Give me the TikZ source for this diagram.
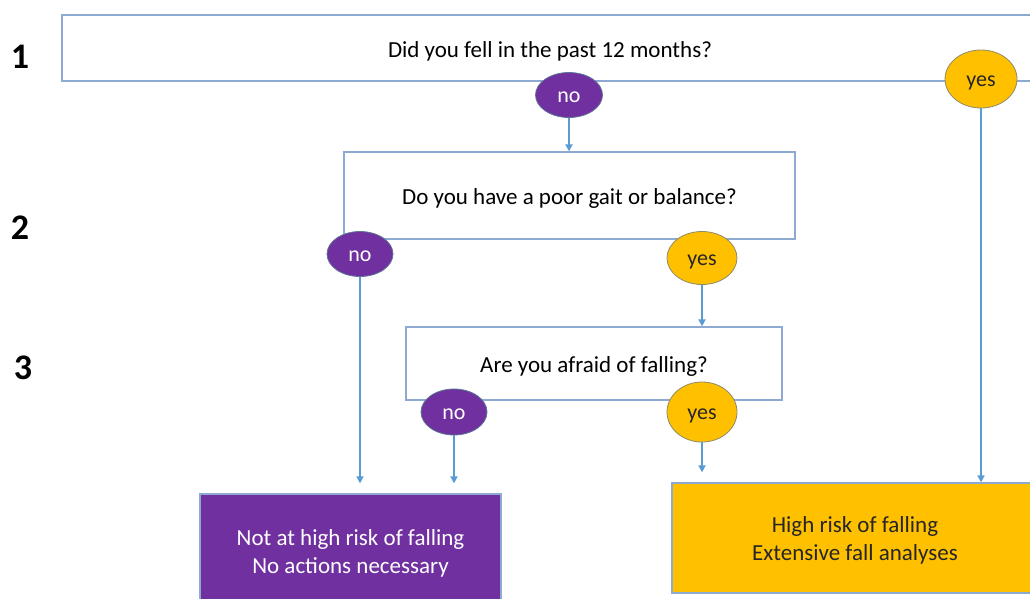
\documentclass[tikz,border=0pt]{standalone}
\usepackage{fontspec}
\setmainfont{Carlito}
\usetikzlibrary{shapes.geometric,arrows.meta}
\definecolor{boxline}{HTML}{8EA9D2}
\definecolor{arrowblue}{HTML}{5B9BD5}
\definecolor{riskpurple}{HTML}{7030A0}
\definecolor{riskyellow}{HTML}{FFC000}
\definecolor{ovalline}{HTML}{5E7594}
% lower a text inside its node without changing the node's size
\newcommand{\lowertext}[2][3pt]{\raisebox{-#1}[\height][\depth]{#2}}
\newcommand{\twolines}[2]{\lowertext{\begin{tabular}{@{}c@{}}#1\\#2\end{tabular}}}
\tikzset{
  question/.style={draw=boxline, line width=1.3pt, fill=white, rectangle, inner sep=0pt,
    font=\fontsize{23}{27}\selectfont},
  answerno/.style={ellipse, draw=ovalline, line width=0.8pt, fill=riskpurple, inner sep=0pt,
    text=white, font=\fontsize{22}{26}\selectfont},
  answeryes/.style={ellipse, draw=ovalline!70!riskyellow, line width=0.8pt, fill=riskyellow, inner sep=0pt,
    text=black!85, font=\fontsize{22}{26}\selectfont},
  outcome/.style={rectangle, draw=boxline, line width=1.3pt, inner sep=0pt,
    font=\fontsize{23}{28}\selectfont},
  flow/.style={draw=arrowblue, line width=1.8pt, -{Triangle[length=7pt,width=7pt]}},
  rownum/.style={font=\bfseries\fontsize{36}{40}\selectfont}
}
\begin{document}
\begin{tikzpicture}[x=1pt, y=-1pt]
  \useasboundingbox (0,0) rectangle (1030,598);
  \clip (0,0) rectangle (1030,598);

  % row numbers
  \node[rownum] (r1) at (20,57) {1};
  \node[rownum] (r2) at (20,228) {2};
  \node[rownum] (r3) at (23,368) {3};

  % question boxes
  \node[question, minimum width=976pt, minimum height=66pt] (q1) at (550,48)
    {\lowertext{Did you fell in the past 12 months?}};
  \node[question, minimum width=451pt, minimum height=87pt] (q2) at (569.5,195.5)
    {\lowertext{Do you have a poor gait or balance?}};
  \node[question, minimum width=376pt, minimum height=73pt] (q3) at (594,363.5)
    {\lowertext{Are you afraid of falling?}};

  % outcome boxes
  \node[outcome, fill=riskpurple, text=white, minimum width=301pt, minimum height=114pt] (low) at (350.5,551)
    {\twolines{Not at high risk of falling}{No actions necessary}};
  \node[outcome, fill=riskyellow, text=black!85, minimum width=366pt, minimum height=110pt] (high) at (855,538)
    {\twolines{High risk of falling}{Extensive fall analyses}};

  % answers
  \node[answerno, minimum width=67pt, minimum height=45pt] (no1) at (569,95) {\lowertext[2pt]{no}};
  \node[answeryes, minimum width=72pt, minimum height=58pt] (yes1) at (981,79) {\lowertext[3.5pt]{yes}};
  \node[answerno, minimum width=66pt, minimum height=45pt] (no2) at (360,254) {\lowertext[2pt]{no}};
  \node[answeryes, minimum width=70pt, minimum height=53pt] (yes2) at (702,258) {\lowertext[3.5pt]{yes}};
  \node[answerno, minimum width=66pt, minimum height=46pt] (no3) at (454,412) {\lowertext[2pt]{no}};
  \node[answeryes, minimum width=70pt, minimum height=60pt] (yes3) at (702,412) {\lowertext[3.5pt]{yes}};

  % connectors
  \draw[flow] (no1.south) -- (no1.south |- q2.north);
  \draw[flow] (yes2.south) -- (yes2.south |- q3.north);
  \draw[flow] (yes1.south) -- (yes1.south |- high.north);
  \draw[flow, shorten >=10pt] (no2.south) -- (no2.south |- low.north);
  \draw[flow, shorten >=10pt] (no3.south) -- (no3.south |- low.north);
  \draw[flow, shorten >=10pt] (yes3.south) -- (yes3.south |- high.north);
\end{tikzpicture}
\end{document}
